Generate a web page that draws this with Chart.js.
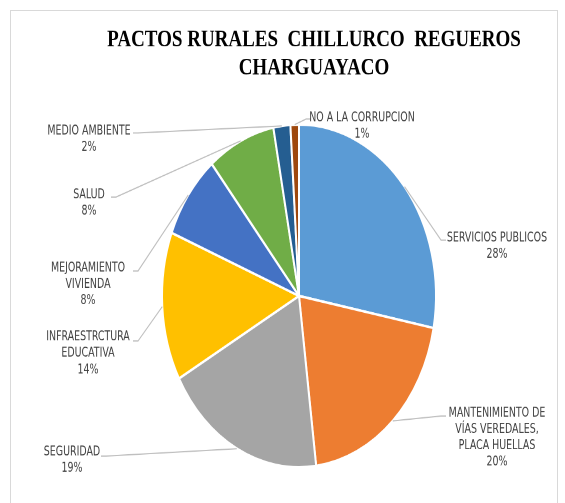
<!DOCTYPE html>
<html>
<head>
<meta charset="utf-8">
<script src="https://cdn.jsdelivr.net/npm/chart.js@4.4.0/dist/chart.umd.min.js"></script>
<style>
  html, body { margin: 0; padding: 0; background: #fff; }
  #marco { position: absolute; left: 10px; top: 10px; width: 546px; height: 500px; border: 1px solid #d9d9d9; }
  #lienzo { position: absolute; left: 0; top: 0; width: 565px; height: 402px; transform: scaleY(1.2512); transform-origin: 0 0; }
</style>
</head>
<body>
<div id="marco"></div>
<div id="lienzo"><canvas id="pactos"></canvas></div>
<script>
const titulo = ["PACTOS RURALES  CHILLURCO  REGUEROS", "CHARGUAYACO"];
const categorias = [
  "SERVICIOS PUBLICOS",
  "MANTENIMIENTO DE\nVÍAS VEREDALES,\nPLACA HUELLAS",
  "SEGURIDAD",
  "INFRAESTRCTURA\nEDUCATIVA",
  "MEJORAMIENTO\nVIVIENDA",
  "SALUD",
  "MEDIO AMBIENTE",
  "NO A LA CORRUPCION"
];
const porcentajes = [28, 20, 19, 14, 8, 8, 2, 1];
const colores = ["#5b9bd5", "#ed7d31", "#a5a5a5", "#ffc000", "#4472c4", "#70ad47", "#255e91", "#9e480e"];

// the picture is stretched vertically; everything is drawn in unstretched space
const S = 1.2512;
// where each label sits (text centre x, first line y, leader end x/y, side)
const posEtiquetas = [
  { x: 497, y: 238, lx: 446, ly: 240, lado: "der" },
  { x: 497, y: 413, lx: 446, ly: 416, lado: "der" },
  { x: 72,  y: 452, lx: 101, ly: 456, lado: "izq" },
  { x: 88,  y: 337, lx: 133, ly: 341, lado: "izq" },
  { x: 88,  y: 268, lx: 133, ly: 271, lado: "izq" },
  { x: 89,  y: 195, lx: 111, ly: 197, lado: "izq" },
  { x: 89,  y: 131, lx: 133, ly: 133, lado: "izq" },
  { x: 362, y: 118, lx: 311, ly: 119, lado: "der" }
];

const etiquetas = {
  id: "etiquetas",
  afterDatasetsDraw(chart) {
    const ctx = chart.ctx;
    const meta = chart.getDatasetMeta(0);
    ctx.save();
    meta.data.forEach((arc, i) => {
      const p = arc.getProps(["x", "y", "startAngle", "endAngle", "outerRadius"]);
      const mid = (p.startAngle + p.endAngle) / 2;
      const ax = p.x + Math.cos(mid) * p.outerRadius;
      const ay = p.y + Math.sin(mid) * p.outerRadius;
      const pos = posEtiquetas[i];
      const ly = pos.ly / S;
      const codo = pos.lx + (pos.lado === "izq" ? 5 : -5);
      ctx.strokeStyle = "#bfbfbf";
      ctx.lineWidth = 1;
      ctx.beginPath();
      ctx.moveTo(ax, ay);
      ctx.lineTo(codo, ly);
      ctx.lineTo(pos.lx, ly);
      ctx.stroke();

      const lineas = categorias[i].split("\n").concat([porcentajes[i] + "%"]);
      ctx.font = "10.5px 'Liberation Sans Narrow', 'DejaVu Sans Condensed', sans-serif";
      ctx.fillStyle = "#404040";
      ctx.textAlign = "center";
      ctx.textBaseline = "middle";
      lineas.forEach((t, k) => ctx.fillText(t, pos.x, pos.y / S + k * 13.1));
    });

    ctx.font = "bold 19px 'Liberation Serif', 'Times New Roman', serif";
    ctx.fillStyle = "#000";
    ctx.textAlign = "center";
    ctx.textBaseline = "middle";
    ctx.fillText(titulo[0], 314, 40 / S);
    ctx.fillText(titulo[1], 314, 68 / S);
    ctx.restore();
  }
};

new Chart("pactos", {
  type: "pie",
  data: {
    labels: categorias.map(c => c.replace(/\n/g, " ")),
    datasets: [{
      data: porcentajes,
      backgroundColor: colores,
      borderColor: "#ffffff",
      borderWidth: 2,
      radius: 137
    }]
  },
  options: {
    responsive: true,
    maintainAspectRatio: false,
    devicePixelRatio: 2,
    animation: false,
    layout: { padding: { left: 33, right: 0, top: 90, bottom: 19 } },
    plugins: {
      legend: { display: false },
      tooltip: { enabled: false },
      title: { display: false }
    }
  },
  plugins: [etiquetas]
});
</script>
</body>
</html>
